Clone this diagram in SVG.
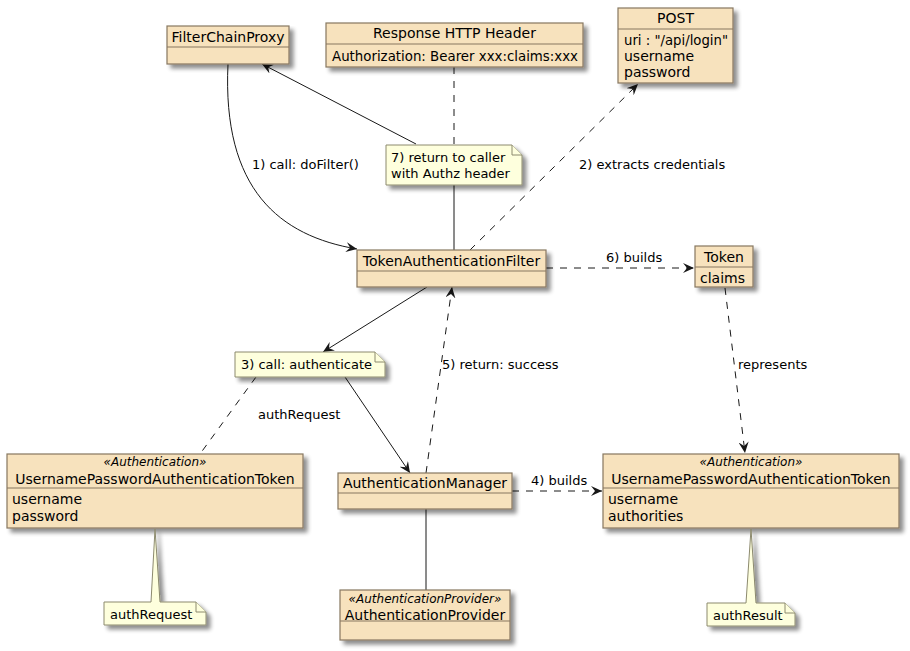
<svg xmlns="http://www.w3.org/2000/svg" width="910" height="651" viewBox="0 0 910 651">
<defs>
<filter id="sh" x="-10%" y="-10%" width="130%" height="140%">
<feGaussianBlur in="SourceAlpha" stdDeviation="2"/>
<feOffset dx="4" dy="4" result="b"/>
<feComponentTransfer><feFuncA type="linear" slope="0.45"/></feComponentTransfer>
<feMerge><feMergeNode/><feMergeNode in="SourceGraphic"/></feMerge>
</filter>
<marker id="arr" viewBox="0 0 12 10" refX="11" refY="5" markerWidth="12" markerHeight="10" markerUnits="userSpaceOnUse" orient="auto">
<path d="M0,0 L11,5 L0,10 L4,5 Z" fill="#181818"/>
</marker>
</defs>
<style>
text{font-family:"DejaVu Sans","Liberation Sans",sans-serif;fill:#000}
.box{fill:#F7E2BD;stroke:#877760;stroke-width:1.2}
.sep{stroke:#877760;stroke-width:1.2}
.note{fill:#FEFFDD;stroke:#8C8A6E;stroke-width:1}
.nm{font-size:14px;text-anchor:middle}
.at{font-size:14px}
.st{font-size:12px;font-style:italic;text-anchor:middle}
.nt{font-size:13px}
.lb{font-size:13px}
.ln{fill:none;stroke:#181818;stroke-width:1}
.dash{stroke-dasharray:7,7}
</style>
<rect width="910" height="651" fill="#fff"/>

<g id="connectors">
<path class="ln" d="M228,64 C222,190 280,236 357,249" marker-end="url(#arr)"/>
<path class="ln" d="M416,144 L262,64" marker-end="url(#arr)"/>
<path class="ln" d="M454,250 L454,185"/>
<path class="ln dash" d="M454,67 L454,145"/>
<path class="ln dash" d="M470,250 L638,84" marker-end="url(#arr)"/>
<path class="ln dash" d="M546,268 L694,268" marker-end="url(#arr)"/>
<path class="ln" d="M427,287 L323,352" marker-end="url(#arr)"/>
<path class="ln" d="M345,377 L410,473" marker-end="url(#arr)"/>
<path class="ln dash" d="M256,377 L200,454"/>
<path class="ln dash" d="M426,473 L452,287" marker-end="url(#arr)"/>
<path class="ln dash" d="M512,491 L602,491" marker-end="url(#arr)"/>
<path class="ln" d="M426,509 L426,590"/>
<path class="ln dash" d="M725,288 L745,453" marker-end="url(#arr)"/>
<text class="lb" x="252" y="169">1) call: doFilter()</text>
<text class="lb" x="579" y="169">2) extracts credentials</text>
<text class="lb" x="606" y="262">6) builds</text>
<text class="lb" x="258" y="419">authRequest</text>
<text class="lb" x="442" y="369">5) return: success</text>
<text class="lb" x="738" y="369">represents</text>
<text class="lb" x="531" y="485">4) builds</text>
</g>

<g id="FilterChainProxy">
<rect class="box" x="167" y="26" width="122" height="38" filter="url(#sh)"/>
<line class="sep" x1="167" y1="47" x2="289" y2="47"/>
<text class="nm" x="228" y="42">FilterChainProxy</text>
</g>

<g id="ResponseHTTPHeader">
<rect class="box" x="326" y="23" width="257" height="44" filter="url(#sh)"/>
<line class="sep" x1="326" y1="44" x2="583" y2="44"/>
<text class="nm" x="454.5" y="38">Response HTTP Header</text>
<text class="at" x="332" y="61" textLength="246" lengthAdjust="spacingAndGlyphs">Authorization: Bearer xxx:claims:xxx</text>
</g>

<g id="POST">
<rect class="box" x="618" y="8" width="115" height="75" filter="url(#sh)"/>
<line class="sep" x1="618" y1="29" x2="733" y2="29"/>
<text class="nm" x="675.5" y="23">POST</text>
<text class="at" x="624" y="45" textLength="104" lengthAdjust="spacingAndGlyphs">uri : "/api/login"</text>
<text class="at" x="624" y="61">username</text>
<text class="at" x="624" y="77">password</text>
</g>

<g id="note7">
<path class="note" d="M386,145 L512,145 L522,155 L522,185 L386,185 Z" filter="url(#sh)"/>
<path class="note" d="M512,145 L512,155 L522,155"/>
<text class="nt" x="391" y="162">7) return to caller</text>
<text class="nt" x="391" y="178">with Authz header</text>
</g>

<g id="TokenAuthenticationFilter">
<rect class="box" x="357" y="250" width="189" height="37" filter="url(#sh)"/>
<line class="sep" x1="357" y1="271" x2="546" y2="271"/>
<text class="nm" x="451.5" y="266">TokenAuthenticationFilter</text>
</g>

<g id="Token">
<rect class="box" x="695" y="246" width="58" height="41" filter="url(#sh)"/>
<line class="sep" x1="695" y1="267" x2="753" y2="267"/>
<text class="nm" x="724" y="262">Token</text>
<text class="at" x="700" y="283">claims</text>
</g>

<g id="note3">
<path class="note" d="M235,352 L375,352 L385,362 L385,377 L235,377 Z" filter="url(#sh)"/>
<path class="note" d="M375,352 L375,362 L385,362"/>
<text class="nt" x="241" y="369">3) call: authenticate</text>
</g>

<g id="authRequestToken">
<rect class="box" x="7" y="454" width="296" height="74" filter="url(#sh)"/>
<line class="sep" x1="7" y1="488" x2="303" y2="488"/>
<text class="st" x="155" y="466">«Authentication»</text>
<text class="nm" x="155" y="484">UsernamePasswordAuthenticationToken</text>
<text class="at" x="12" y="504">username</text>
<text class="at" x="12" y="521">password</text>
</g>

<g id="AuthenticationManager">
<rect class="box" x="338" y="473" width="174" height="36" filter="url(#sh)"/>
<line class="sep" x1="338" y1="493" x2="512" y2="493"/>
<text class="nm" x="425" y="488">AuthenticationManager</text>
</g>

<g id="authResultToken">
<rect class="box" x="603" y="454" width="296" height="74" filter="url(#sh)"/>
<line class="sep" x1="603" y1="488" x2="899" y2="488"/>
<text class="st" x="751" y="466">«Authentication»</text>
<text class="nm" x="751" y="484">UsernamePasswordAuthenticationToken</text>
<text class="at" x="608" y="504">username</text>
<text class="at" x="608" y="521">authorities</text>
</g>

<g id="AuthenticationProvider">
<rect class="box" x="340" y="590" width="170" height="50" filter="url(#sh)"/>
<line class="sep" x1="340" y1="621" x2="510" y2="621"/>
<text class="st" x="425" y="603">«AuthenticationProvider»</text>
<text class="nm" x="425" y="620">AuthenticationProvider</text>
</g>

<g id="noteAuthRequest">
<path class="note" d="M104,602 L151,602 L155,529 L160,602 L196,602 L206,612 L206,625 L104,625 Z" filter="url(#sh)"/>
<path class="note" d="M196,602 L196,612 L206,612"/>
<text class="nt" x="110" y="619">authRequest</text>
</g>

<g id="noteAuthResult">
<path class="note" d="M707,603 L746,603 L751,529 L756,603 L785,603 L795,613 L795,626 L707,626 Z" filter="url(#sh)"/>
<path class="note" d="M785,603 L785,613 L795,613"/>
<text class="nt" x="713" y="620">authResult</text>
</g>
</svg>
